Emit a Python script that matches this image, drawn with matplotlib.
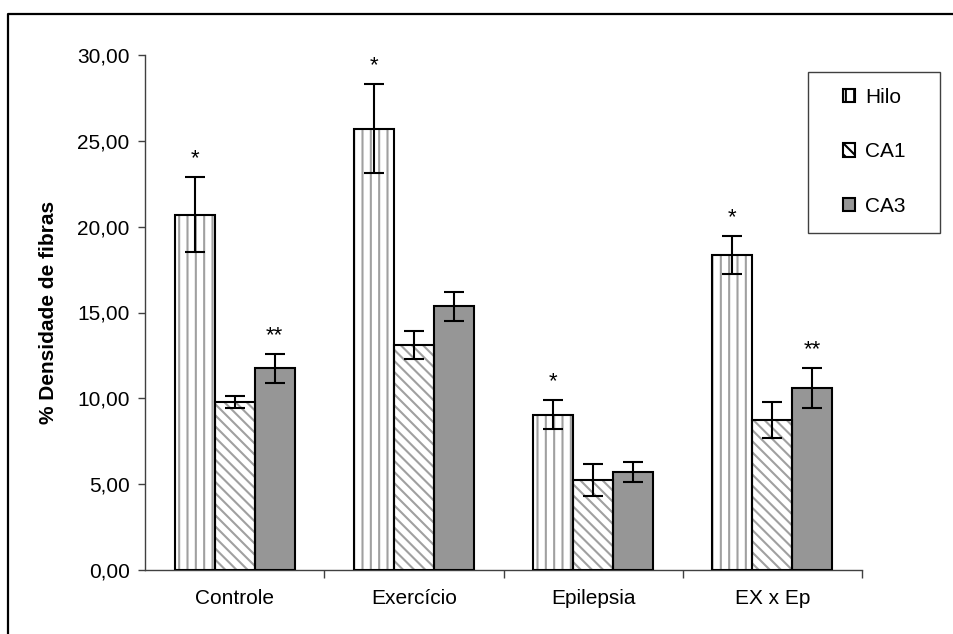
import matplotlib
matplotlib.use("Agg")
import matplotlib.pyplot as plt
from matplotlib.patches import Patch, Rectangle
from matplotlib.lines import Line2D
from matplotlib.ticker import FuncFormatter
import numpy as np

plt.rcParams['font.family'] = ['Liberation Sans', 'DejaVu Sans']
plt.rcParams['hatch.linewidth'] = 1.5

categories = ["Controle", "Exercício", "Epilepsia", "EX x Ep"]
series = ["Hilo", "CA1", "CA3"]
hilo = [20.7, 25.7, 9.05, 18.35]
hilo_err = [2.2, 2.6, 0.85, 1.1]
ca1 = [9.78, 13.1, 5.25, 8.72]
ca1_err = [0.35, 0.8, 0.95, 1.05]
ca3 = [11.75, 15.35, 5.7, 10.6]
ca3_err = [0.85, 0.85, 0.6, 1.15]
marks_hilo = ["*", "*", "*", "*"]
marks_ca3 = ["**", "", "", "**"]
yticks = [0, 5, 10, 15, 20, 25, 30]

W, H = 954, 634
fig = plt.figure(figsize=(W/100, H/100), dpi=100)
ax = fig.add_axes([145/W, 1-570/H, (862-145)/W, (570-55)/H])

x = np.arange(len(categories))
w = 0.223
styles = [
    dict(face="white", hatch="||", hcolor="#a0a0a0"),
    dict(face="white", hatch="\\\\\\", hcolor="#a0a0a0"),
    dict(face="#969696", hatch=None, hcolor="#969696"),
]
vals = [hilo, ca1, ca3]
errs = [hilo_err, ca1_err, ca3_err]
for i, (v, e, st) in enumerate(zip(vals, errs, styles)):
    pos = x + (i - 1) * w
    ax.bar(pos, v, width=w, color=st["face"], edgecolor=st["hcolor"],
           hatch=st["hatch"], linewidth=0, zorder=2)
    ax.bar(pos, v, width=w, facecolor="none", edgecolor="black",
           linewidth=1.5, zorder=3)
    ax.errorbar(pos, v, yerr=e, fmt="none", ecolor="black", elinewidth=1.5,
                capsize=7.5, capthick=1.5, zorder=4)

for j in range(len(categories)):
    if marks_hilo[j]:
        ax.text(x[j] - w, hilo[j] + hilo_err[j] + 0.45, marks_hilo[j],
                ha="center", va="bottom", fontsize=16)
    if marks_ca3[j]:
        ax.text(x[j] + w, ca3[j] + ca3_err[j] + 0.45, marks_ca3[j],
                ha="center", va="bottom", fontsize=16)

ax.set_xlim(-0.5, 3.5)
ax.set_ylim(0, 30)
ax.set_yticks(yticks)
ax.yaxis.set_major_formatter(FuncFormatter(lambda v, p: f"{v:.2f}".replace(".", ",")))
ax.set_xticks([0.5, 1.5, 2.5, 3.5])
ax.set_xticklabels([])
ax.set_xticks(x, minor=True)
ax.set_xticklabels(categories, minor=True)
ax.tick_params(axis="x", which="minor", length=0, labelsize=15, pad=14, colors="black")
ax.tick_params(axis="x", which="major", length=6, width=1, color="#404040", direction="out")
ax.tick_params(axis="y", length=5, width=1, color="#404040", labelsize=15, pad=6)
for s in ["top", "right"]:
    ax.spines[s].set_visible(False)
for s in ["left", "bottom"]:
    ax.spines[s].set_color("#404040")
    ax.spines[s].set_linewidth(1)
ax.set_ylabel("% Densidade de fibras", fontsize=15, fontweight="bold", labelpad=14)

# legend frame drawn separately
ax.add_patch(Rectangle((808/W, 1-233/H), (940-808)/W, (233-72)/H,
                       transform=fig.transFigure, facecolor="white",
                       edgecolor="#404040", linewidth=1, zorder=5, clip_on=False))
handles = [Patch(facecolor=st["face"], edgecolor="black", hatch=st["hatch"], linewidth=1.5)
           for st in styles]
leg = ax.legend(handles, series, loc="upper left",
                bbox_to_anchor=(843/W, 1-88/H), bbox_transform=fig.transFigure,
                borderaxespad=0, borderpad=0, fontsize=15, frameon=False,
                handlelength=0.6, handleheight=0.6,
                handletextpad=0.45, labelspacing=1.7)
leg.set_zorder(6)

fig.add_artist(Line2D([8/W, 8/W, 1], [0, 1-14/H, 1-14/H],
                      transform=fig.transFigure, color="black", linewidth=1.6))

fig.savefig("out.png", dpi=100)
